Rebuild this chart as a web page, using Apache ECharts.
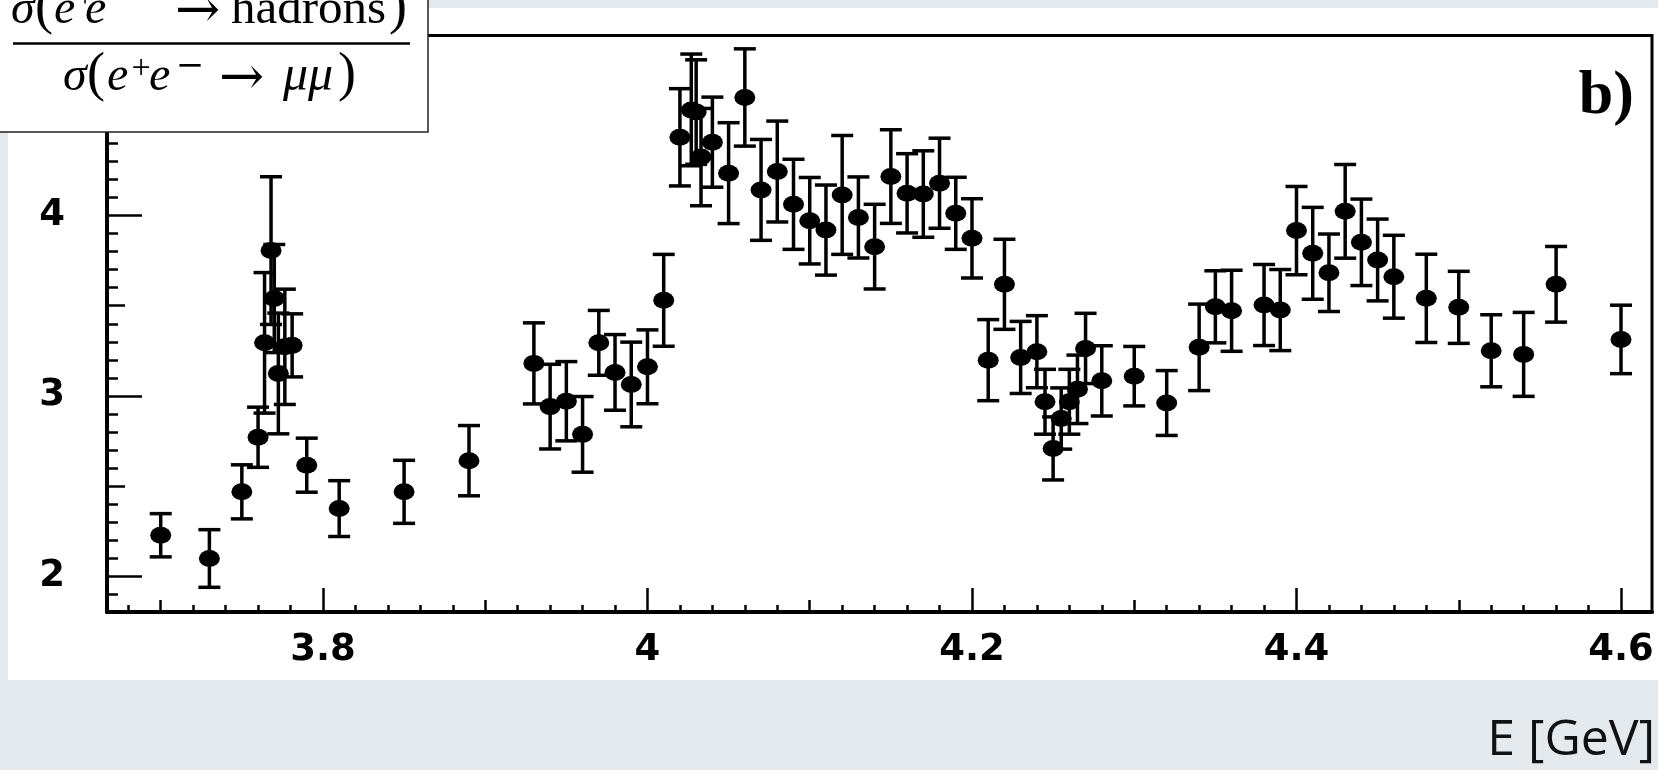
<!DOCTYPE html>
<html>
<head>
<meta charset="utf-8">
<script src="https://cdn.jsdelivr.net/npm/echarts@6/dist/echarts.min.js"></script>
<style>
  html, body { margin: 0; padding: 0; background: #e4e9ee; }
  #chart { width: 1658px; height: 770px; }
</style>
</head>
<body>
<div id="chart"></div>
<script>
// Centre-of-mass energy [GeV]
const energies = [
  3.700, 3.730, 3.750, 3.760, 3.764, 3.768, 3.770, 3.7725, 3.7765, 3.781,
  3.790, 3.810, 3.850, 3.890, 3.930, 3.940, 3.950, 3.960, 3.970, 3.980,
  3.990, 4.000, 4.010, 4.020, 4.027, 4.030, 4.033, 4.040, 4.050, 4.060,
  4.070, 4.080, 4.090, 4.100, 4.110, 4.120, 4.130, 4.140, 4.150, 4.160,
  4.170, 4.180, 4.190, 4.200, 4.210, 4.220, 4.230, 4.240, 4.245, 4.250,
  4.255, 4.260, 4.265, 4.270, 4.280, 4.300, 4.320, 4.340, 4.350, 4.360,
  4.380, 4.390, 4.400, 4.410, 4.420, 4.430, 4.440, 4.450, 4.460, 4.480,
  4.500, 4.520, 4.540, 4.560, 4.600
];
// R = sigma(ee->hadrons)/sigma(ee->mumu)
const ratios = [
  2.226, 2.097, 2.467, 2.770, 3.294, 3.806, 3.540, 3.124, 3.272, 3.280,
  2.615, 2.374, 2.467, 2.640, 3.180, 2.940, 2.970, 2.786, 3.294, 3.130,
  3.063, 3.161, 3.530, 4.435, 4.587, 4.575, 4.325, 4.408, 4.236, 4.656,
  4.143, 4.245, 4.063, 3.972, 3.920, 4.115, 3.990, 3.828, 4.217, 4.124,
  4.120, 4.180, 4.013, 3.874, 3.198, 3.619, 3.213, 3.245, 2.967, 2.708,
  2.874, 2.967, 3.036, 3.263, 3.083, 3.109, 2.960, 3.269, 3.494, 3.472,
  3.504, 3.476, 3.917, 3.791, 3.683, 4.024, 3.852, 3.754, 3.661, 3.541,
  3.491, 3.250, 3.230, 3.619, 3.313
];
// symmetric uncertainties
const errors = [
  0.120, 0.160, 0.150, 0.167, 0.390, 0.410, 0.300, 0.335, 0.320, 0.175,
  0.150, 0.155, 0.175, 0.195, 0.225, 0.235, 0.220, 0.210, 0.180, 0.210,
  0.235, 0.205, 0.255, 0.270, 0.310, 0.290, 0.270, 0.250, 0.280, 0.270,
  0.280, 0.280, 0.250, 0.240, 0.250, 0.330, 0.225, 0.235, 0.260, 0.220,
  0.240, 0.250, 0.200, 0.220, 0.225, 0.250, 0.200, 0.200, 0.180, 0.175,
  0.170, 0.180, 0.190, 0.195, 0.195, 0.165, 0.180, 0.240, 0.200, 0.225,
  0.225, 0.225, 0.245, 0.255, 0.215, 0.260, 0.240, 0.227, 0.230, 0.245,
  0.200, 0.200, 0.233, 0.210, 0.190
];

// tick positions / labels
const xMajorTicks = [3.8, 4.0, 4.2, 4.4, 4.6];
const xMidTicks = [3.7, 3.9, 4.1, 4.3, 4.5];
const xMinorTicks = [];
for (let k = 184; k <= 230; k++) xMinorTicks.push(Math.round(k * 2) / 100);
const yMajorTicks = [2, 3, 4];
const yMidTicks = [2.5, 3.5, 4.5];
const yMinorTicks = [];
for (let k = 19; k <= 49; k++) yMinorTicks.push(k / 10);

const X_MIN = 3.6669, X_MAX = 4.6191, Y_MIN = 1.8, Y_MAX = 5.0;

const tickStyle = { color: '#000', width: 2.5 };
const labelFont = { fontFamily: 'DejaVu Sans', fontWeight: 'bold', fontSize: 37, color: '#000' };

function xAxisDef(values, len, withLine, withLabel) {
  return {
    type: 'value', gridIndex: 0, position: 'bottom', min: X_MIN, max: X_MAX,
    splitLine: { show: false },
    axisLine: { show: withLine, onZero: false, lineStyle: { color: '#000', width: 4 } },
    axisTick: { show: true, inside: true, length: len, lineStyle: tickStyle, customValues: values },
    axisLabel: withLabel
      ? Object.assign({ show: true, margin: 20, customValues: values }, labelFont)
      : { show: false }
  };
}
function yAxisDef(values, len, withLine, withLabel) {
  return {
    type: 'value', gridIndex: 0, position: 'left', min: Y_MIN, max: Y_MAX,
    splitLine: { show: false },
    axisLine: { show: withLine, onZero: false, lineStyle: { color: '#000', width: 4 } },
    axisTick: { show: true, inside: true, length: len, lineStyle: tickStyle, customValues: values },
    axisLabel: withLabel
      ? Object.assign({ show: true, margin: 42, customValues: values }, labelFont)
      : { show: false }
  };
}

const errData = energies.map((e, i) => [e, ratios[i] - errors[i], ratios[i] + errors[i]]);
const ptData = energies.map((e, i) => [e, ratios[i]]);

// --- y-axis title (LaTeX-like fraction), built from text pieces ---
const LIB = "'Liberation Serif', 'DejaVu Serif', serif";
const DJV = "'DejaVu Serif', serif";
function piece(t, x, midY, size, opt) {
  opt = opt || {};
  return {
    type: 'text', z: 101, x: x, y: midY, silent: true,
    style: {
      text: t, fontFamily: opt.family || LIB, fontStyle: opt.italic ? 'italic' : 'normal',
      fontSize: size, fill: '#000', align: opt.align || 'left', verticalAlign: 'middle'
    }
  };
}
function onBase(t, x, base, size, opt) {
  const k = (opt && opt.family === DJV) ? 0.297 : 0.305;
  return piece(t, x, base - k * size, size, opt);
}
const NB = 25.5, DB = 92; // baselines of numerator / denominator
const titlePieces = [
  // numerator: σ(e+e- → hadrons)
  onBase('σ', 11, NB, 48, { italic: true }),
  onBase('(', 35, NB, 54),
  onBase('e', 54, NB, 48, { italic: true }),
  piece('+', 85, -1.5, 32, { align: 'center' }),
  onBase('e', 85, NB, 48, { italic: true }),
  piece('−', 125, -4, 34, { align: 'center', family: DJV }),
  piece('→', 175, 13, 54, { family: DJV }),
  onBase('hadrons', 231, NB, 49),
  onBase(')', 389, NB, 54),
  // denominator: σ(e+e- → μμ)
  onBase('σ', 63, DB, 48, { italic: true }),
  onBase('(', 87, DB, 54),
  onBase('e', 107, DB, 48, { italic: true }),
  piece('+', 141, 69, 34, { align: 'center' }),
  onBase('e', 149, DB, 48, { italic: true }),
  piece('−', 190, 67, 34, { align: 'center', family: DJV }),
  piece('→', 219, 80, 54, { family: DJV }),
  onBase('μμ', 283, DB, 50, { italic: true }),
  onBase(')', 338, DB, 54)
];

const option = {
  backgroundColor: '#e4e9ee',
  animation: false,
  grid: { left: 107, right: 6, top: 35.5, bottom: 158, show: true, borderColor: '#000', borderWidth: 3, backgroundColor: '#fff' },
  xAxis: [
    xAxisDef(xMajorTicks, 24, true, true),
    xAxisDef(xMidTicks, 12, false, false),
    xAxisDef(xMinorTicks, 7, false, false)
  ],
  yAxis: [
    yAxisDef(yMajorTicks, 35, true, true),
    yAxisDef(yMidTicks, 18, false, false),
    yAxisDef(yMinorTicks, 11, false, false)
  ],
  graphic: [
    { type: 'rect', z: -100, silent: true, shape: { x: 8, y: 8, width: 1650, height: 672 }, style: { fill: '#fff' } },
    { type: 'rect', z: 100, shape: { x: -2, y: -2, width: 430, height: 134 }, style: { fill: '#fff', stroke: '#222', lineWidth: 1.5 } },
    { type: 'line', z: 101, shape: { x1: 13, y1: 43.5, x2: 410, y2: 43.5 }, style: { stroke: '#000', lineWidth: 2.5 } }
  ].concat(titlePieces).concat([
    { type: 'text', z: 101, x: 1634, y: 97, style: {
        text: 'b)', fontFamily: LIB, fontWeight: 'bold', fontSize: 62, fill: '#000',
        align: 'right', verticalAlign: 'middle' } },
    { type: 'text', z: 101, x: 1655, y: 741, style: {
        text: 'E [GeV]', fontFamily: "'Open Sans', 'Noto Sans', sans-serif", fontSize: 50, fill: '#111',
        align: 'right', verticalAlign: 'middle' } }
  ]),
  series: [
    {
      type: 'custom', xAxisIndex: 0, yAxisIndex: 0, z: 3,
      encode: { x: 0, y: [1, 2] },
      data: errData,
      renderItem: function (params, api) {
        const x = api.value(0);
        const lo = api.coord([x, api.value(1)]);
        const hi = api.coord([x, api.value(2)]);
        const cap = 11;
        const st = { stroke: '#000', lineWidth: 3.5 };
        return {
          type: 'group',
          children: [
            { type: 'line', shape: { x1: lo[0], y1: lo[1], x2: hi[0], y2: hi[1] }, style: st },
            { type: 'line', shape: { x1: lo[0] - cap, y1: lo[1], x2: lo[0] + cap, y2: lo[1] }, style: st },
            { type: 'line', shape: { x1: hi[0] - cap, y1: hi[1], x2: hi[0] + cap, y2: hi[1] }, style: st }
          ]
        };
      }
    },
    {
      type: 'scatter', xAxisIndex: 0, yAxisIndex: 0, z: 4,
      symbol: 'circle', symbolSize: [21, 17],
      itemStyle: { color: '#000', opacity: 1 },
      data: ptData
    }
  ]
};

const chart = echarts.init(document.getElementById('chart'), null, { renderer: 'canvas' });
chart.setOption(option);
</script>
</body>
</html>
